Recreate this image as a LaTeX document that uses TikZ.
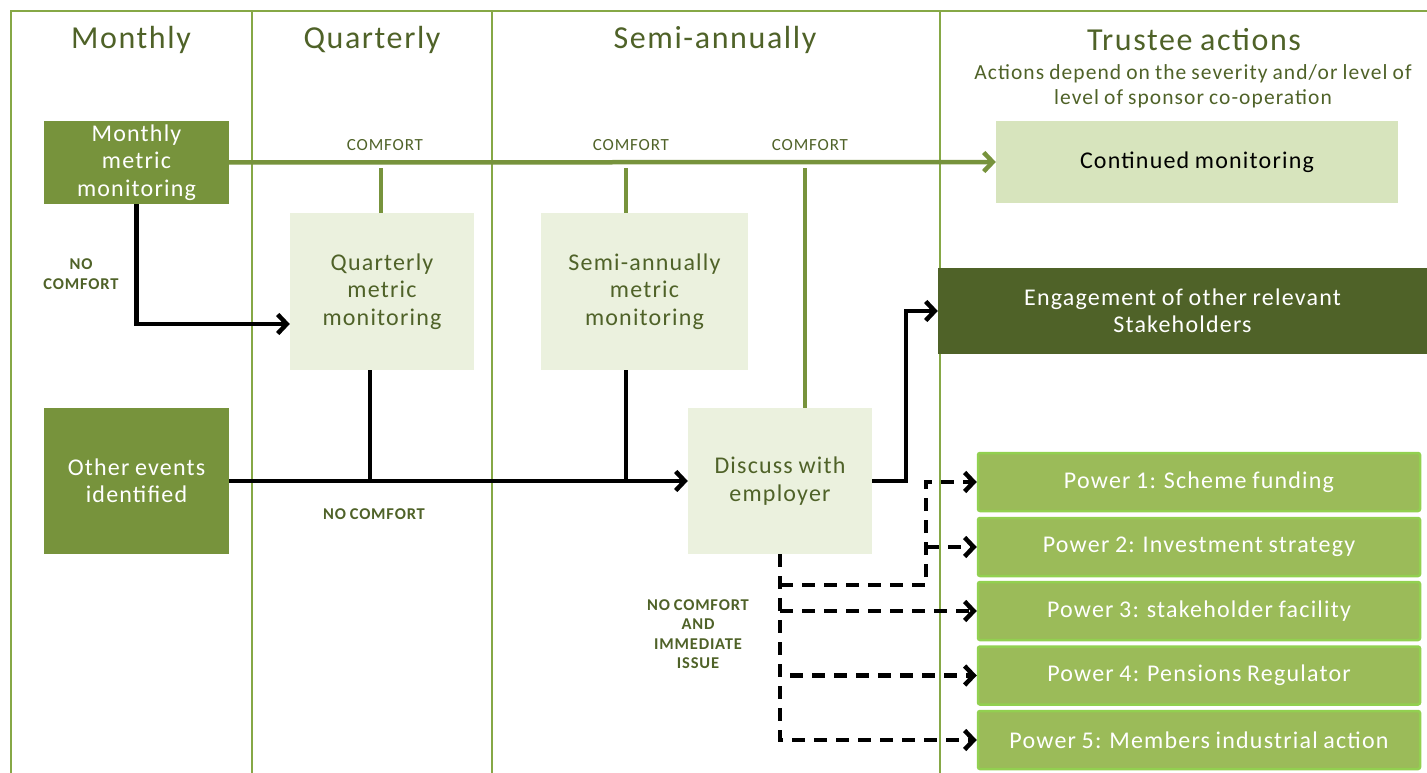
\documentclass[tikz,border=0pt]{standalone}
\usepackage{fontspec}
\setmainfont{Carlito}[LetterSpace=5,WordSpace=0.85]
\usetikzlibrary{arrows.meta}

\definecolor{olive}{HTML}{77933C}
\definecolor{darkolive}{HTML}{4F6228}
\definecolor{paleolive}{HTML}{EBF1DE}
\definecolor{lightolive}{HTML}{D7E4BD}
\definecolor{powerfill}{HTML}{9BBB59}
\definecolor{powerline}{HTML}{92D050}
\definecolor{frameline}{HTML}{86A846}

\tikzset{
  frame/.style={draw=frameline, line width=2pt},
  head/.style={text=darkolive, inner sep=0pt, font=\fontsize{32}{36}\selectfont},
  subhead/.style={text=darkolive, inner sep=0pt, align=center, font=\fontsize{21.5}{25}\selectfont},
  tag/.style={text=darkolive, inner sep=0pt, align=center, font=\fontsize{17}{19.5}\selectfont},
  boldtag/.style={tag, font=\fontsize{16.5}{19.5}\selectfont\bfseries},
  box/.style={rectangle, inner sep=0pt, align=center, font=\fontsize{24}{27.5}\selectfont},
  darkbox/.style={box, fill=olive, text=white},
  palebox/.style={box, fill=paleolive, text=darkolive},
  powerbox/.style={box, fill=powerfill, draw=powerline, line width=2.5pt, rounded corners=2pt,
    text=white, minimum width=442pt, minimum height=58pt},
  tip/.style={-{Straight Barb[length=9pt,width=19pt]}},
  flow/.style={draw=black, line width=4.5pt},
  comfortline/.style={draw=olive, line width=4.5pt},
  dashflow/.style={draw=black, line width=4.5pt, dash pattern=on 13pt off 9pt},
}

\begin{document}
\begin{tikzpicture}[x=1pt, y=-1pt]
\useasboundingbox (0,0) rectangle (1427,773);

% column grid
\draw[frame] (11,773) -- (11,11) -- (1427,11);
\draw[frame] (252,11) -- (252,773);
\draw[frame] (492,11) -- (492,773);
\draw[frame] (940,11) -- (940,773);

% column headings
\node[head] (hMonthly) at (131,40) {Monthly};
\node[head] (hQuarterly) at (372,40) {Quarterly};
\node[head] (hSemi) at (715,40) {Semi-annually};
\node[head] (hTrustee) at (1194,40) {Trustee actions};
\node[subhead] (hSub) at (1193,86) {Actions depend on the severity and/or level of\\level of sponsor co-operation};

% process boxes
\node[darkbox, minimum width=185pt, minimum height=83pt] (mmm) at (136.5,162.5) {Monthly\\metric\\monitoring};
\node[darkbox, minimum width=185pt, minimum height=146pt] (oth) at (136.5,481) {Other events\\identified};
\node[palebox, minimum width=184pt, minimum height=157pt] (qmm) at (382,291.5) {Quarterly\\metric\\monitoring};
\node[palebox, minimum width=207pt, minimum height=157pt] (smm) at (644.5,291.5) {Semi-annually\\metric\\monitoring};
\node[palebox, minimum width=184pt, minimum height=146pt] (dis) at (780,481) {Discuss with\\employer};

% trustee actions
\node[box, fill=lightolive, text=black, minimum width=402pt, minimum height=82pt] (cont) at (1197,162) {Continued monitoring};
\node[box, fill=darkolive, text=white, minimum width=489pt, minimum height=86pt] (eng) at (1182.5,311) {Engagement of other relevant\\Stakeholders};
\node[powerbox] (p1) at (1199,482) {Power 1: Scheme funding};
\node[powerbox] (p2) at (1199,547) {Power 2: Investment strategy};
\node[powerbox] (p3) at (1199,611) {Power 3: stakeholder facility};
\node[powerbox] (p4) at (1199,675.5) {Power 4: Pensions Regulator};
\node[powerbox] (p5) at (1199,740) {Power 5: Members industrial action};

% comfort path
\draw[comfortline, tip] (mmm.east) -- (cont.west);
\coordinate (cq) at (381,168);
\coordinate (cs) at (626,168);
\coordinate (cd) at (805,168);
\draw[comfortline] (cq) -- (cq |- qmm.north);
\draw[comfortline] (cs) -- (cs |- smm.north);
\draw[comfortline] (cd) -- (cd |- dis.north);
\node[tag] (t1) at (385,145) {COMFORT};
\node[tag] (t2) at (631,145) {COMFORT};
\node[tag] (t3) at (810,145) {COMFORT};

% no-comfort paths
\draw[flow, tip] (mmm.south) |- ([yshift=-32.5pt]qmm.west);
\draw[flow, tip] (oth.east) -- (dis.west);
\coordinate (qs) at ([xshift=-12pt]qmm.south);
\coordinate (ss) at ([xshift=-18.5pt]smm.south);
\draw[flow] (qs) -- (qs |- oth.east);
\draw[flow] (ss) -- (ss |- oth.east);
\draw[flow, tip] (dis.east) -- ++(34,0) |- (eng.west);
\node[boldtag] (n1) at (81,274) {NO\\COMFORT};
\node[boldtag] (n2) at (374,514) {NO COMFORT};
\node[boldtag] (n3) at (698,634) {NO COMFORT\\AND\\IMMEDIATE\\ISSUE};

% escalation to powers
\coordinate (b1) at (780,585);
\coordinate (j1) at (926,585);
\draw[dashflow, tip] (dis.south) |- (p5.west);
\draw[dashflow, tip] (b1) -- (j1) |- (p1.west);
\draw[dashflow, tip] (j1 |- p2.west) -- (p2.west);
\draw[dashflow, tip] (dis.south |- p3.west) -- (p3.west);
\draw[dashflow, tip] ([xshift=10pt]dis.south |- p4.west) -- (p4.west);
\end{tikzpicture}
\end{document}
